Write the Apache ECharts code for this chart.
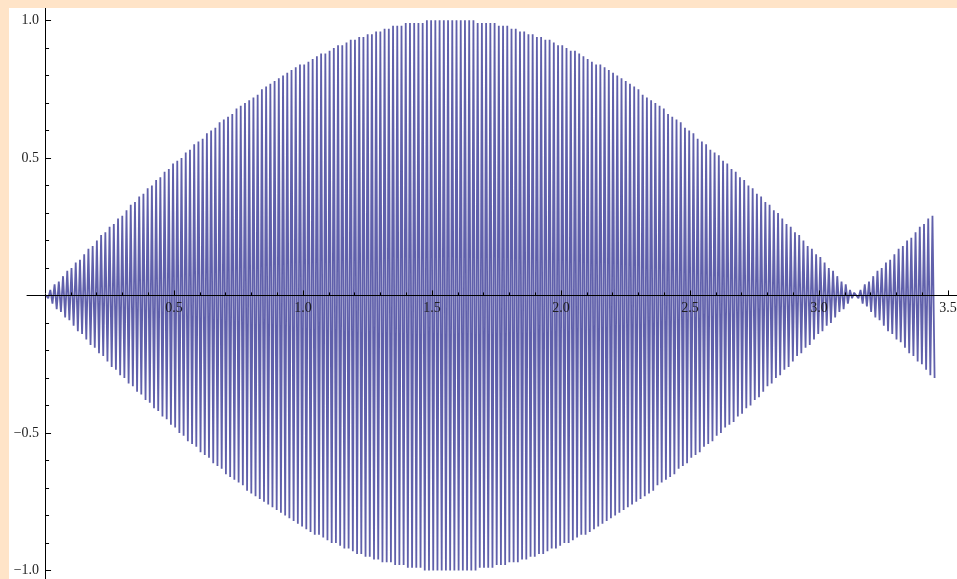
<!DOCTYPE html>
<html><head><meta charset="utf-8">
<script src="https://cdn.jsdelivr.net/npm/echarts@6/dist/echarts.min.js"></script>
<style>
html,body{margin:0;padding:0;width:957px;height:579px;overflow:hidden;background:#FFE4C8;}
#chart{position:absolute;left:9px;top:8px;width:948px;height:571px;background:#ffffff;}
</style></head><body><div id="chart"></div>
<script>
// Signed peak values of the oscillating curve (one per half-oscillation)
const peakValues = [
0,-0.01,0.02,-0.03,0.04,-0.05,0.05,-0.06,0.07,-0.08,0.09,-0.09,
0.10,-0.11,0.12,-0.13,0.13,-0.14,0.15,-0.16,0.17,-0.18,0.18,-0.19,
0.20,-0.21,0.22,-0.22,0.23,-0.24,0.25,-0.26,0.26,-0.27,0.28,-0.29,
0.29,-0.30,0.31,-0.32,0.33,-0.33,0.34,-0.35,0.36,-0.36,0.37,-0.38,
0.39,-0.39,0.40,-0.41,0.42,-0.42,0.43,-0.44,0.45,-0.45,0.46,-0.47,
0.48,-0.48,0.49,-0.50,0.50,-0.51,0.52,-0.53,0.53,-0.54,0.55,-0.55,
0.56,-0.57,0.57,-0.58,0.59,-0.59,0.60,-0.61,0.61,-0.62,0.63,-0.63,
0.64,-0.65,0.65,-0.66,0.66,-0.67,0.68,-0.68,0.69,-0.69,0.70,-0.71,
0.71,-0.72,0.72,-0.73,0.73,-0.74,0.75,-0.75,0.76,-0.76,0.77,-0.77,
0.78,-0.78,0.79,-0.79,0.80,-0.80,0.81,-0.81,0.82,-0.82,0.83,-0.83,
0.84,-0.84,0.84,-0.85,0.85,-0.86,0.86,-0.87,0.87,-0.87,0.88,-0.88,
0.88,-0.89,0.89,-0.90,0.90,-0.90,0.91,-0.91,0.91,-0.92,0.92,-0.92,
0.93,-0.93,0.93,-0.94,0.94,-0.94,0.94,-0.95,0.95,-0.95,0.95,-0.96,
0.96,-0.96,0.96,-0.97,0.97,-0.97,0.97,-0.97,0.98,-0.98,0.98,-0.98,
0.98,-0.98,0.99,-0.99,0.99,-0.99,0.99,-0.99,0.99,-0.99,0.99,-1.00,
1.00,-1.00,1.00,-1.00,1.00,-1.00,1.00,-1.00,1.00,-1.00,1.00,-1.00,
1.00,-1.00,1.00,-1.00,1.00,-1.00,1.00,-1.00,1.00,-1.00,1.00,-1.00,
0.99,-0.99,0.99,-0.99,0.99,-0.99,0.99,-0.99,0.99,-0.98,0.98,-0.98,
0.98,-0.98,0.98,-0.97,0.97,-0.97,0.97,-0.97,0.96,-0.96,0.96,-0.96,
0.95,-0.95,0.95,-0.95,0.94,-0.94,0.94,-0.94,0.93,-0.93,0.93,-0.92,
0.92,-0.92,0.91,-0.91,0.91,-0.90,0.90,-0.90,0.89,-0.89,0.89,-0.88,
0.88,-0.87,0.87,-0.87,0.86,-0.86,0.85,-0.85,0.84,-0.84,0.84,-0.83,
0.83,-0.82,0.82,-0.81,0.81,-0.80,0.80,-0.79,0.79,-0.78,0.78,-0.77,
0.77,-0.76,0.76,-0.75,0.75,-0.74,0.73,-0.73,0.72,-0.72,0.71,-0.71,
0.70,-0.69,0.69,-0.68,0.68,-0.67,0.66,-0.66,0.65,-0.65,0.64,-0.63,
0.63,-0.62,0.61,-0.61,0.60,-0.59,0.59,-0.58,0.57,-0.57,0.56,-0.55,
0.55,-0.54,0.53,-0.53,0.52,-0.51,0.51,-0.50,0.49,-0.48,0.48,-0.47,
0.46,-0.46,0.45,-0.44,0.43,-0.43,0.42,-0.41,0.40,-0.40,0.39,-0.38,
0.37,-0.37,0.36,-0.35,0.34,-0.33,0.33,-0.32,0.31,-0.30,0.30,-0.29,
0.28,-0.27,0.26,-0.26,0.25,-0.24,0.23,-0.22,0.22,-0.21,0.20,-0.19,
0.18,-0.18,0.17,-0.16,0.15,-0.14,0.14,-0.13,0.12,-0.11,0.10,-0.10,
0.09,-0.08,0.07,-0.06,0.05,-0.05,0.04,-0.03,0.02,-0.01,0.01,0,
-0.01,0.02,-0.03,0.04,-0.04,0.05,-0.06,0.07,-0.08,0.09,-0.09,0.10,
-0.11,0.12,-0.13,0.13,-0.14,0.15,-0.16,0.17,-0.17,0.18,-0.19,0.20,
-0.21,0.21,-0.22,0.23,-0.24,0.25,-0.25,0.26,-0.27,0.28,-0.29,0.29,
-0.30
];
// x position of the first peak and spacing between successive peaks (half-oscillation)
const peakStartX = 0.0041;
const peakSpacingX = 0.0082;

const xMajorTicks = [0.5, 1.0, 1.5, 2.0, 2.5, 3.0, 3.5];
const xMinorTicks = [0.1,0.2,0.3,0.4,0.6,0.7,0.8,0.9,1.1,1.2,1.3,1.4,1.6,1.7,1.8,1.9,
                     2.1,2.2,2.3,2.4,2.6,2.7,2.8,2.9,3.1,3.2,3.3,3.4];
const yMajorTicks = [-1.0, -0.5, 0.5, 1.0];
const yMinorTicks = [-0.9,-0.8,-0.7,-0.6,-0.4,-0.3,-0.2,-0.1,0.1,0.2,0.3,0.4,0.6,0.7,0.8,0.9];

const xRange = [-0.07, 3.535];
const yRange = [-1.031, 1.045];

const W = 948, H = 571;
const grid = {left: 18, right: 0, top: 0, bottom: 0};
const gridW = W - grid.left - grid.right, gridH = H - grid.top - grid.bottom;
// place the axes through the origin (x axis at y = 0, y axis at x = 0)
const xAxisOffset = -gridH * (0 - yRange[0]) / (yRange[1] - yRange[0]);
const yAxisOffset = -gridW * (0 - xRange[0]) / (xRange[1] - xRange[0]);

const chart = echarts.init(document.getElementById('chart'), null, {renderer: 'canvas', width: W, height: H});
const fmt = v => (v < 0 ? '\u2212' + Math.abs(v).toFixed(1) : v.toFixed(1));
const labelFont = {color: '#1e1e1e', fontFamily: 'Liberation Serif', fontSize: 14};

function axisDef(range, pos, offset, ticks, len, withLabels) {
  return {
    type: 'value', min: range[0], max: range[1], position: pos, offset: offset, z: 5,
    axisLine: {show: withLabels, onZero: false, lineStyle: {color: '#000', width: 1}},
    axisTick: {show: true, inside: true, length: len, customValues: ticks,
               lineStyle: {color: '#000', width: 1}},
    axisLabel: withLabels ? Object.assign({show: true, customValues: ticks, formatter: fmt, margin: 6}, labelFont)
                          : {show: false},
    splitLine: {show: false}
  };
}

chart.setOption({
  animation: false,
  backgroundColor: '#ffffff',
  grid: Object.assign({containLabel: false, outerBoundsMode: 'none'}, grid),
  xAxis: [axisDef(xRange, 'bottom', xAxisOffset, xMajorTicks, 5, true),
          axisDef(xRange, 'bottom', xAxisOffset, xMinorTicks, 3, false)],
  yAxis: [axisDef(yRange, 'left', yAxisOffset, yMajorTicks, 6, true),
          axisDef(yRange, 'left', yAxisOffset, yMinorTicks, 4, false)],
  series: [{
    type: 'line',
    xAxisIndex: 0, yAxisIndex: 0,
    data: peakValues.map((v, i) => [peakStartX + i * peakSpacingX, v]),
    showSymbol: false, symbol: 'none',
    sampling: null,
    lineStyle: {color: '#3D3D99', width: 1.8, opacity: 0.82},
    silent: true
  }]
});
</script></body></html>
